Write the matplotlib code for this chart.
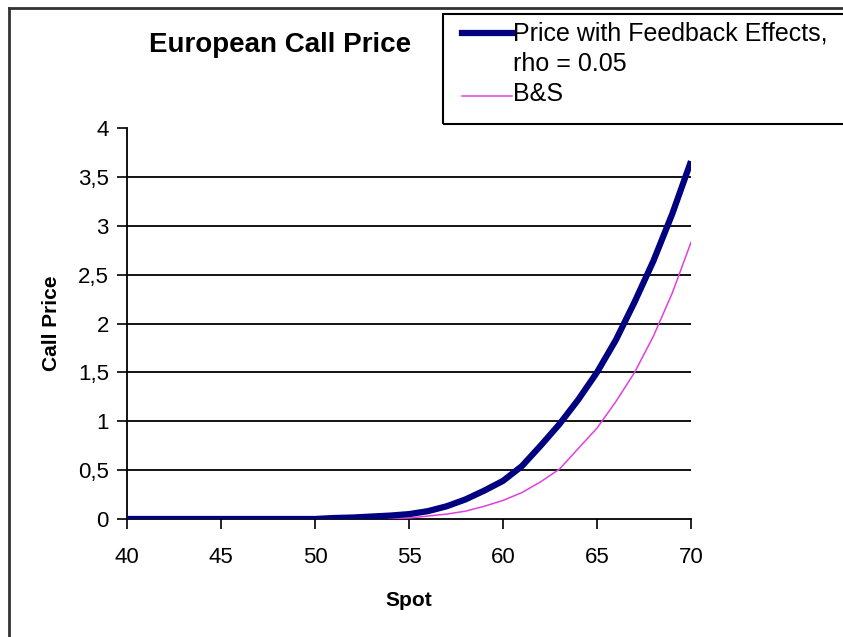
import matplotlib
matplotlib.use('Agg')
import matplotlib.pyplot as plt
from matplotlib.lines import Line2D
from matplotlib.patches import Rectangle

plt.rcParams['font.family'] = ['Liberation Sans', 'DejaVu Sans']

spot = list(range(40, 71))
feedback = [0, 0, 0, 0, 0, 0, 0, 0, 0, 0, 0,
            0.01, 0.015, 0.025, 0.035, 0.05, 0.08, 0.13, 0.20, 0.29, 0.39,
            0.54, 0.75, 0.97, 1.22, 1.50, 1.83, 2.22, 2.64, 3.12, 3.66]
bs = [0, 0, 0, 0, 0, 0, 0, 0, 0, 0, 0,
      0, 0, 0, 0.005, 0.01, 0.03, 0.05, 0.08, 0.13, 0.19,
      0.27, 0.38, 0.51, 0.72, 0.93, 1.20, 1.50, 1.87, 2.31, 2.83]
xticks = [40, 45, 50, 55, 60, 65, 70]
yticks = [0, 0.5, 1, 1.5, 2, 2.5, 3, 3.5, 4]
ytick_labels = ['0', '0,5', '1', '1,5', '2', '2,5', '3', '3,5', '4']
labels = ['Price with Feedback Effects,\nrho = 0.05', 'B&S']

W, H = 843, 637
fig = plt.figure(figsize=(W / 100, H / 100), dpi=100)
ax = fig.add_axes([127 / W, 1 - 519 / H, (691 - 127) / W, (519 - 128) / H])

ax.plot(spot, bs, color='#e040e0', lw=1.1, zorder=3, solid_joinstyle='round')
ax.plot(spot, feedback, color='#000080', lw=4.5, zorder=4,
        solid_capstyle='butt', solid_joinstyle='round')

ax.set_xlim(40, 70)
ax.set_ylim(0, 4)
ax.set_xticks(xticks)
ax.set_yticks(yticks)
ax.set_yticklabels(ytick_labels)
ax.tick_params(direction='out', length=7, width=1.2, labelsize=16, colors='black', pad=6)
ax.tick_params(axis='x', pad=13)
ax.grid(axis='y', color='black', lw=1.3)
ax.yaxis.get_gridlines()[-1].set_visible(False)
ax.yaxis.get_gridlines()[0].set_visible(False)
for s in ['top', 'right']:
    ax.spines[s].set_visible(False)
for s in ['left', 'bottom']:
    ax.spines[s].set_linewidth(1.3)
ax.set_xlabel('Spot', fontsize=15, fontweight='bold', labelpad=17)
ax.set_ylabel('Call Price', fontsize=15, fontweight='bold', labelpad=12)

fig.text(280 / W, 1 - 45 / H, 'European Call Price', fontsize=20, fontweight='bold',
         ha='center', va='center')

# outer frame (left and top edges visible)
fig.add_artist(Line2D([9 / W, 9 / W], [0, 1 - 8 / H], color='#333333', lw=2))
fig.add_artist(Line2D([9 / W, 1], [1 - 8 / H, 1 - 8 / H], color='#333333', lw=2))

# legend box
fig.add_artist(Rectangle((443 / W, 1 - 124 / H), (W - 443) / W + 0.01, 110 / H,
                         transform=fig.transFigure, fill=False, ec='black', lw=1.5))
fig.add_artist(Line2D([462 / W, 512 / W], [1 - 33 / H, 1 - 33 / H], color='#000080', lw=4.5))
fig.add_artist(Line2D([462 / W, 512 / W], [1 - 96 / H, 1 - 96 / H], color='#e040e0', lw=1.1))
fig.text(513 / W, 1 - 33 / H, labels[0].split('\n')[0], fontsize=18, va='center', ha='left')
fig.text(513 / W, 1 - 64 / H, labels[0].split('\n')[1], fontsize=18, va='center', ha='left')
fig.text(513 / W, 1 - 94 / H, labels[1], fontsize=18, va='center', ha='left')

fig.savefig('out.png', dpi=100)
